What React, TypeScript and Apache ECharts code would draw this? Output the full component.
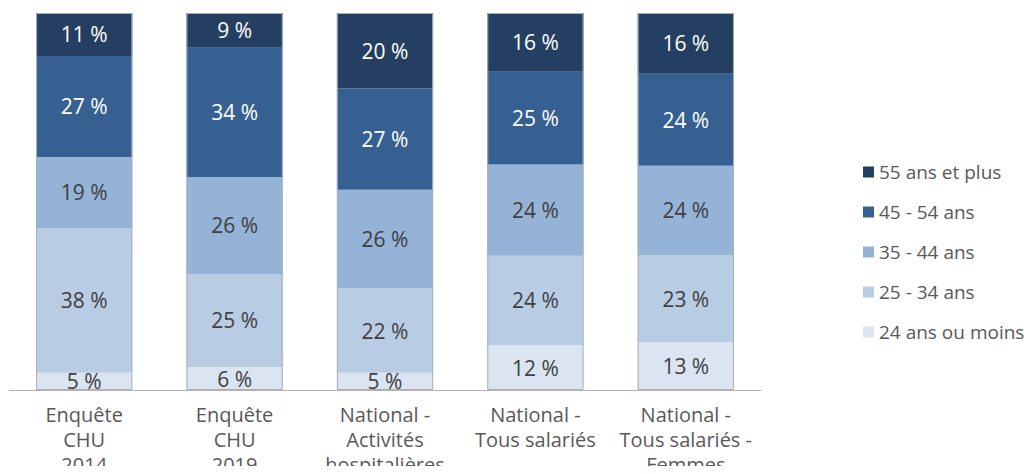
import React, { useEffect, useRef } from "react";
import * as echarts from "echarts";

const categories = [
  "Enquête\nCHU\n2014",
  "Enquête\nCHU\n2019",
  "National -\nActivités\nhospitalières",
  "National -\nTous salariés",
  "National -\nTous salariés -\nFemmes",
];

const seriesNames = [
  "24 ans ou moins",
  "25 - 34 ans",
  "35 - 44 ans",
  "45 - 54 ans",
  "55 ans et plus",
];

const age24orLess = [4.6, 6.1, 4.6, 11.9, 12.7];
const age25to34 = [38.4, 24.7, 22.3, 23.7, 23.1];
const age35to44 = [18.8, 25.7, 26.2, 24.2, 23.7];
const age45to54 = [26.8, 34.3, 26.9, 24.6, 24.4];
const age55plus = [11.4, 9.2, 20.0, 15.6, 16.1];

const seriesValues = [age24orLess, age25to34, age35to44, age45to54, age55plus];
const colors = ["#dbe5f1", "#b8cce4", "#95b3d7", "#366092", "#253f62"];
const labelColors = ["#404040", "#404040", "#404040", "#ffffff", "#ffffff"];

const FONT = "'Open Sans', 'DejaVu Sans', sans-serif";

export default function App() {
  const ref = useRef<HTMLDivElement>(null);
  useEffect(() => {
    if (!ref.current) return;
    const chart = echarts.init(ref.current, null, { renderer: "svg" });
    const totals = categories.map((_, i) =>
      seriesValues.reduce((s, arr) => s + arr[i], 0)
    );
    const stackSeries = seriesNames.map((name, k) => ({
      name,
      type: "bar",
      stack: "total",
      barWidth: "64%",
      data: seriesValues[k],
      itemStyle: { color: colors[k] },
      label: {
        show: true,
        position: "inside",
        color: labelColors[k],
        fontFamily: FONT,
        fontSize: 21,
        formatter: (p: any) => Math.round(p.value) + " %",
      },
    }));
    const frame = {
      name: "frame",
      type: "bar",
      barWidth: "64%",
      barGap: "-100%",
      data: totals,
      silent: true,
      z: 5,
      itemStyle: {
        color: "rgba(0,0,0,0)",
        borderColor: "#a7afba",
        borderWidth: 1,
      },
      label: { show: false },
    };
    chart.setOption({
      animation: false,
      backgroundColor: "#ffffff",
      grid: {
        left: 9,
        right: 272,
        top: 13,
        bottom: 84,
        containLabel: false,
        outerBoundsMode: "none",
      },
      legend: {
        data: [...seriesNames].reverse(),
        orient: "vertical",
        left: 863,
        top: 162,
        padding: 0,
        itemWidth: 11,
        itemHeight: 11,
        itemGap: 20,
        icon: "rect",
        textStyle: {
          fontFamily: FONT,
          fontSize: 19,
          color: "#595959",
          lineHeight: 20,
        },
      },
      xAxis: {
        type: "category",
        data: categories,
        axisLine: { lineStyle: { color: "#b3b3b3", width: 1 } },
        axisTick: { show: false },
        axisLabel: {
          interval: 0,
          fontFamily: FONT,
          fontSize: 20,
          color: "#595959",
          lineHeight: 25,
          margin: 12,
        },
      },
      yAxis: {
        type: "value",
        min: 0,
        max: 100,
        show: false,
        splitLine: { show: false },
      },
      series: [...stackSeries, frame],
    });
    return () => chart.dispose();
  }, []);
  return <div ref={ref} style={{ width: 1033, height: 474, margin: -8 }} />;
}
